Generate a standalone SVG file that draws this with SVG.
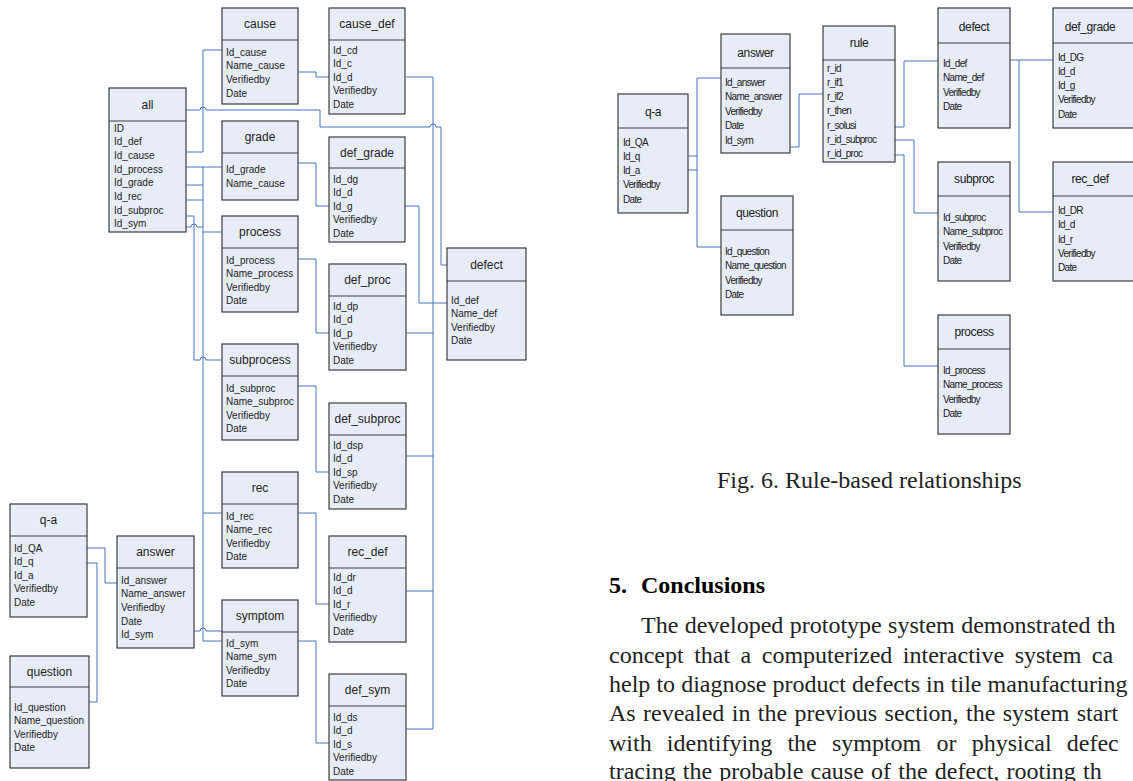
<svg xmlns="http://www.w3.org/2000/svg" width="1133" height="781" viewBox="0 0 1133 781">
<style>
.box{fill:#e7edf8;stroke:#3c3c3c;stroke-width:1.2}
.sep{stroke:#3c3c3c;stroke-width:1.2}
.t{font-family:"Liberation Sans",Arial,sans-serif;font-size:12px;fill:#222;text-anchor:middle}
.f{font-family:"Liberation Sans",Arial,sans-serif;font-size:10px;fill:#222}
.tr{font-family:"Liberation Sans",Arial,sans-serif;font-size:12px;fill:#1a1a1a;text-anchor:middle;letter-spacing:-0.4px}
.fr{font-family:"Liberation Sans",Arial,sans-serif;font-size:10px;fill:#1a1a1a;letter-spacing:-0.7px}
.c{fill:none;stroke:#4472c4;stroke-width:1}
.cap{font-family:"Liberation Serif","Times New Roman",serif;font-size:24px;fill:#222}
.h{font-family:"Liberation Serif","Times New Roman",serif;font-size:24px;font-weight:bold;fill:#000}
.p{font-family:"Liberation Serif","Times New Roman",serif;font-size:24px;fill:#222}
</style>
<rect width="1133" height="781" fill="#fff"/>
<g id="connectors">
<path class="c" d="M186,152 H203 V50 H222"/>
<path class="c" d="M186,110 H200 a3,3 0 0 1 6,0 H320 V127 H430 a3,3 0 0 1 6,0 H441 V265 H447"/>
<path class="c" d="M298,72 H316 V77 H329"/>
<path class="c" d="M406,77 H433 V729 H406"/>
<path class="c" d="M406,333 H433 M406,456 H433 M406,591 H433"/>
<path class="c" d="M405,206 H419 V303 H447"/>
<path class="c" d="M298,163 H316 V206 H329"/>
<path class="c" d="M298,259 H316 V333 H329"/>
<path class="c" d="M298,386 H316 V472 H329"/>
<path class="c" d="M298,513 H316 V604 H329"/>
<path class="c" d="M298,641 H316 V743 H329"/>
<path class="c" d="M186,167 H222"/>
<path class="c" d="M203,167 V641 H222"/>
<path class="c" d="M186,185 H203 M186,200 H203"/>
<path class="c" d="M186,227 H191 a3,3 0 0 1 6,0 H203"/>
<path class="c" d="M203,232 H222 M203,513 H222"/>
<path class="c" d="M186,216 H194 V360 H200 a3,3 0 0 1 6,0 H222"/>
<path class="c" d="M87,548 H105 V583 H117"/>
<path class="c" d="M87,563 H97 V702 H89"/>
<path class="c" d="M194,631 H200 a3,3 0 0 1 6,0 H222"/>
<path class="c" d="M721,78 H697 V247 H721 M688,156 H697 M688,170 H697"/>
<path class="c" d="M790,147 H799 V94 H823"/>
<path class="c" d="M895,127 H904 V61 H938"/>
<path class="c" d="M895,140 H914 V213 H938"/>
<path class="c" d="M895,155 H904 V366 H938"/>
<path class="c" d="M1010,60 H1053 M1019,60 V212 H1053"/>
</g>
<g id="all">
<rect class="box" x="109" y="88" width="77" height="144"/><line class="sep" x1="109" y1="121" x2="186" y2="121"/>
<text class="t" x="147.5" y="109.3">all</text>
<text class="f"><tspan x="114" y="131.5">ID</tspan><tspan x="114" y="145.2">Id_def</tspan><tspan x="114" y="158.9">Id_cause</tspan><tspan x="114" y="172.6">Id_process</tspan><tspan x="114" y="186.3">Id_grade</tspan><tspan x="114" y="200">Id_rec</tspan><tspan x="114" y="213.7">Id_subproc</tspan><tspan x="114" y="227.4">Id_sym</tspan></text>
</g>
<g id="cause">
<rect class="box" x="222" y="8" width="76" height="96"/><line class="sep" x1="222" y1="40" x2="298" y2="40"/>
<text class="t" x="260" y="28.3">cause</text>
<text class="f"><tspan x="226" y="55.5">Id_cause</tspan><tspan x="226" y="69.2">Name_cause</tspan><tspan x="226" y="82.9">Verifiedby</tspan><tspan x="226" y="96.6">Date</tspan></text>
</g>
<g id="cause_def">
<rect class="box" x="329" y="8" width="76" height="106"/><line class="sep" x1="329" y1="40" x2="405" y2="40"/>
<text class="t" x="367" y="28.3">cause_def</text>
<text class="f"><tspan x="333" y="53.5">Id_cd</tspan><tspan x="333" y="67">Id_c</tspan><tspan x="333" y="80.5">Id_d</tspan><tspan x="333" y="94">Verifiedby</tspan><tspan x="333" y="107.5">Date</tspan></text>
</g>
<g id="grade">
<rect class="box" x="222" y="121" width="76" height="79"/><line class="sep" x1="222" y1="153" x2="298" y2="153"/>
<text class="t" x="260" y="141.3">grade</text>
<text class="f"><tspan x="226" y="173">Id_grade</tspan><tspan x="226" y="186.5">Name_cause</tspan></text>
</g>
<g id="def_grade">
<rect class="box" x="329" y="137" width="76" height="105"/><line class="sep" x1="329" y1="168" x2="405" y2="168"/>
<text class="t" x="367" y="157.3">def_grade</text>
<text class="f"><tspan x="333" y="182.5">Id_dg</tspan><tspan x="333" y="196">Id_d</tspan><tspan x="333" y="209.5">Id_g</tspan><tspan x="333" y="223">Verifiedby</tspan><tspan x="333" y="236.5">Date</tspan></text>
</g>
<g id="process">
<rect class="box" x="222" y="216" width="76" height="96"/><line class="sep" x1="222" y1="248" x2="298" y2="248"/>
<text class="t" x="260" y="236.3">process</text>
<text class="f"><tspan x="226" y="263.5">Id_process</tspan><tspan x="226" y="277">Name_process</tspan><tspan x="226" y="290.5">Verifiedby</tspan><tspan x="226" y="304">Date</tspan></text>
</g>
<g id="def_proc">
<rect class="box" x="329" y="264" width="77" height="106"/><line class="sep" x1="329" y1="296" x2="406" y2="296"/>
<text class="t" x="367.5" y="284.3">def_proc</text>
<text class="f"><tspan x="333" y="309.5">Id_dp</tspan><tspan x="333" y="323">Id_d</tspan><tspan x="333" y="336.5">Id_p</tspan><tspan x="333" y="350">Verifiedby</tspan><tspan x="333" y="363.5">Date</tspan></text>
</g>
<g id="defect">
<rect class="box" x="447" y="248" width="79" height="112"/><line class="sep" x1="447" y1="281" x2="526" y2="281"/>
<text class="t" x="486.5" y="268.8">defect</text>
<text class="f"><tspan x="451" y="303.5">Id_def</tspan><tspan x="451" y="317">Name_def</tspan><tspan x="451" y="330.5">Verifiedby</tspan><tspan x="451" y="344">Date</tspan></text>
</g>
<g id="subprocess">
<rect class="box" x="222" y="344" width="76" height="96"/><line class="sep" x1="222" y1="376" x2="298" y2="376"/>
<text class="t" x="260" y="364.3">subprocess</text>
<text class="f"><tspan x="226" y="391.5">Id_subproc</tspan><tspan x="226" y="405">Name_subproc</tspan><tspan x="226" y="418.5">Verifiedby</tspan><tspan x="226" y="432">Date</tspan></text>
</g>
<g id="def_subproc">
<rect class="box" x="329" y="403" width="77" height="106"/><line class="sep" x1="329" y1="435" x2="406" y2="435"/>
<text class="t" x="367.5" y="423.3">def_subproc</text>
<text class="f"><tspan x="333" y="448.5">Id_dsp</tspan><tspan x="333" y="462">Id_d</tspan><tspan x="333" y="475.5">Id_sp</tspan><tspan x="333" y="489">Verifiedby</tspan><tspan x="333" y="502.5">Date</tspan></text>
</g>
<g id="rec">
<rect class="box" x="222" y="472" width="76" height="96"/><line class="sep" x1="222" y1="504" x2="298" y2="504"/>
<text class="t" x="260" y="492.3">rec</text>
<text class="f"><tspan x="226" y="519.5">Id_rec</tspan><tspan x="226" y="533">Name_rec</tspan><tspan x="226" y="546.5">Verifiedby</tspan><tspan x="226" y="560">Date</tspan></text>
</g>
<g id="rec_def">
<rect class="box" x="329" y="536" width="77" height="106"/><line class="sep" x1="329" y1="568" x2="406" y2="568"/>
<text class="t" x="367.5" y="556.3">rec_def</text>
<text class="f"><tspan x="333" y="580.5">Id_dr</tspan><tspan x="333" y="594">Id_d</tspan><tspan x="333" y="607.5">Id_r</tspan><tspan x="333" y="621">Verifiedby</tspan><tspan x="333" y="634.5">Date</tspan></text>
</g>
<g id="symptom">
<rect class="box" x="222" y="600" width="76" height="96"/><line class="sep" x1="222" y1="632" x2="298" y2="632"/>
<text class="t" x="260" y="620.3">symptom</text>
<text class="f"><tspan x="226" y="646.5">Id_sym</tspan><tspan x="226" y="660">Name_sym</tspan><tspan x="226" y="673.5">Verifiedby</tspan><tspan x="226" y="687">Date</tspan></text>
</g>
<g id="def_sym">
<rect class="box" x="329" y="674" width="77" height="106"/><line class="sep" x1="329" y1="706" x2="406" y2="706"/>
<text class="t" x="367.5" y="694.3">def_sym</text>
<text class="f"><tspan x="333" y="720.5">Id_ds</tspan><tspan x="333" y="734">Id_d</tspan><tspan x="333" y="747.5">Id_s</tspan><tspan x="333" y="761">Verifiedby</tspan><tspan x="333" y="774.5">Date</tspan></text>
</g>
<g id="q-a">
<rect class="box" x="10" y="504" width="77" height="113"/><line class="sep" x1="10" y1="536" x2="87" y2="536"/>
<text class="t" x="48.5" y="524.3">q-a</text>
<text class="f"><tspan x="14" y="551.5">Id_QA</tspan><tspan x="14" y="565">Id_q</tspan><tspan x="14" y="578.5">Id_a</tspan><tspan x="14" y="592">Verifiedby</tspan><tspan x="14" y="605.5">Date</tspan></text>
</g>
<g id="answer">
<rect class="box" x="117" y="536" width="77" height="112"/><line class="sep" x1="117" y1="568" x2="194" y2="568"/>
<text class="t" x="155.5" y="556.3">answer</text>
<text class="f"><tspan x="121" y="583.5">Id_answer</tspan><tspan x="121" y="597">Name_answer</tspan><tspan x="121" y="611">Verifiedby</tspan><tspan x="121" y="624.5">Date</tspan><tspan x="121" y="638">Id_sym</tspan></text>
</g>
<g id="question">
<rect class="box" x="10" y="656" width="79" height="112"/><line class="sep" x1="10" y1="687" x2="89" y2="687"/>
<text class="t" x="49.5" y="676.3">question</text>
<text class="f"><tspan x="14" y="710.5">Id_question</tspan><tspan x="14" y="724">Name_question</tspan><tspan x="14" y="737.5">Verifiedby</tspan><tspan x="14" y="751">Date</tspan></text>
</g>
<g id="r-q-a">
<rect class="box" x="618" y="94" width="70" height="119"/><line class="sep" x1="618" y1="128" x2="688" y2="128"/>
<text class="tr" x="653" y="116.3">q-a</text>
<text class="fr"><tspan x="623" y="145.5">Id_QA</tspan><tspan x="623" y="159.8">Id_q</tspan><tspan x="623" y="174.1">Id_a</tspan><tspan x="623" y="188.4">Verifiedby</tspan><tspan x="623" y="202.7">Date</tspan></text>
</g>
<g id="r-answer">
<rect class="box" x="721" y="34" width="69" height="119"/><line class="sep" x1="721" y1="68" x2="790" y2="68"/>
<text class="tr" x="755.5" y="57.3">answer</text>
<text class="fr"><tspan x="725" y="85.5">Id_answer</tspan><tspan x="725" y="100">Name_answer</tspan><tspan x="725" y="114.5">Verifiedby</tspan><tspan x="725" y="129">Date</tspan><tspan x="725" y="143.5">Id_sym</tspan></text>
</g>
<g id="r-rule">
<rect class="box" x="823" y="26" width="72" height="136"/><line class="sep" x1="823" y1="60" x2="895" y2="60"/>
<text class="tr" x="859" y="47.3">rule</text>
<text class="fr"><tspan x="827" y="71.5">r_id</tspan><tspan x="827" y="85.8">r_if1</tspan><tspan x="827" y="100.1">r_if2</tspan><tspan x="827" y="114.4">r_then</tspan><tspan x="827" y="128.7">r_solusi</tspan><tspan x="827" y="143">r_id_subproc</tspan><tspan x="827" y="157.3">r_id_proc</tspan></text>
</g>
<g id="r-defect">
<rect class="box" x="938" y="8" width="72" height="120"/><line class="sep" x1="938" y1="43" x2="1010" y2="43"/>
<text class="tr" x="974" y="31.3">defect</text>
<text class="fr"><tspan x="943" y="66.5">Id_def</tspan><tspan x="943" y="81">Name_def</tspan><tspan x="943" y="95.5">Verifiedby</tspan><tspan x="943" y="110">Date</tspan></text>
</g>
<g id="r-def_grade">
<rect class="box" x="1053" y="8" width="84" height="120"/><line class="sep" x1="1053" y1="43" x2="1137" y2="43"/>
<text class="tr" x="1090" y="31.3">def_grade</text>
<text class="fr"><tspan x="1058" y="60.5">Id_DG</tspan><tspan x="1058" y="74.8">Id_d</tspan><tspan x="1058" y="89.1">Id_g</tspan><tspan x="1058" y="103.4">Verifiedby</tspan><tspan x="1058" y="117.7">Date</tspan></text>
</g>
<g id="r-question">
<rect class="box" x="721" y="196" width="72" height="119"/><line class="sep" x1="721" y1="230" x2="793" y2="230"/>
<text class="tr" x="757" y="217.3">question</text>
<text class="fr"><tspan x="725" y="254.5">Id_question</tspan><tspan x="725" y="269">Name_question</tspan><tspan x="725" y="283.5">Verifiedby</tspan><tspan x="725" y="298">Date</tspan></text>
</g>
<g id="r-subproc">
<rect class="box" x="938" y="162" width="72" height="119"/><line class="sep" x1="938" y1="196" x2="1010" y2="196"/>
<text class="tr" x="974" y="183.3">subproc</text>
<text class="fr"><tspan x="943" y="220.5">Id_subproc</tspan><tspan x="943" y="235">Name_subproc</tspan><tspan x="943" y="249.5">Verifiedby</tspan><tspan x="943" y="264">Date</tspan></text>
</g>
<g id="r-rec_def">
<rect class="box" x="1053" y="162" width="84" height="119"/><line class="sep" x1="1053" y1="196" x2="1137" y2="196"/>
<text class="tr" x="1090" y="183.3">rec_def</text>
<text class="fr"><tspan x="1058" y="213.5">Id_DR</tspan><tspan x="1058" y="228">Id_d</tspan><tspan x="1058" y="242.5">Id_r</tspan><tspan x="1058" y="257">Verifiedby</tspan><tspan x="1058" y="271">Date</tspan></text>
</g>
<g id="r-process">
<rect class="box" x="938" y="315" width="72" height="119"/><line class="sep" x1="938" y1="349" x2="1010" y2="349"/>
<text class="tr" x="974" y="336.3">process</text>
<text class="fr"><tspan x="943" y="373.5">Id_process</tspan><tspan x="943" y="388">Name_process</tspan><tspan x="943" y="402.5">Verifiedby</tspan><tspan x="943" y="417">Date</tspan></text>
</g>
<g id="text">
<text class="cap" x="717" y="488">Fig. 6. Rule-based relationships</text>
<text class="h" y="593"><tspan x="609">5.</tspan><tspan x="641">Conclusions</tspan></text>
<text class="p" x="641" y="633" word-spacing="0.4">The developed prototype system demonstrated th</text>
<text class="p" x="609" y="663" word-spacing="4.5">concept that a computerized interactive system ca</text>
<text class="p" x="609" y="692" word-spacing="0.1">help to diagnose product defects in tile manufacturing</text>
<text class="p" x="609" y="721" word-spacing="1.4">As revealed in the previous section, the system start</text>
<text class="p" x="609" y="751" word-spacing="9.2">with identifying the symptom or physical defec</text>
<text class="p" x="609" y="779" word-spacing="1.2">tracing the probable cause of the defect, rooting th</text>
</g>
</svg>
